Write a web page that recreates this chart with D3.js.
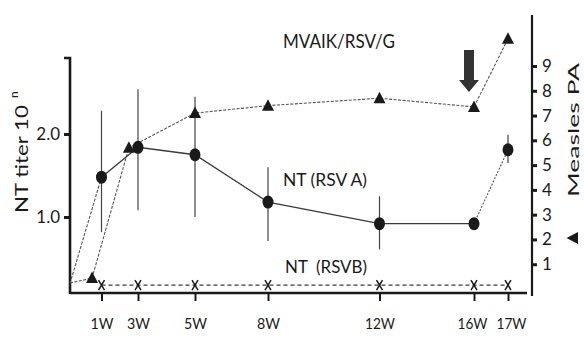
<!DOCTYPE html>
<html>
<head>
<meta charset="utf-8">
<script src="https://cdn.jsdelivr.net/npm/d3@7/dist/d3.min.js"></script>
<style>
  html, body { margin: 0; padding: 0; background: #fff; }
  svg { display: block; font-family: Lato, "Open Sans", sans-serif; }
</style>
</head>
<body>
<svg id="chart" width="584" height="337"></svg>
<script>
// Sampling weeks and their axis labels
const weeks = [1, 3, 5, 8, 12, 16, 17];
const weekLabels = ["1W", "3W", "5W", "8W", "12W", "16W", "17W"];

// Neutralising titre against RSV A (log10), with error range
const ntRsvA = [1.48, 1.84, 1.75, 1.18, 0.92, 0.92, 1.81];
const ntRsvALow = [0.82, 1.08, 1.00, 0.71, 0.61, null, 1.65];
const ntRsvAHigh = [2.28, 2.54, 2.45, 1.60, 1.25, null, 1.99];
const ntRsvAStart = 0.20;

// Neutralising titre against RSV B (log10)
const ntRsvB = [0.18, 0.18, 0.18, 0.18, 0.18, 0.18, 0.18];

// Measles PA titre (right axis), sampled at its own weeks
const measlesWeeks = [0.7, 2.5, 5, 8, 12, 16, 17];
const measlesPA = [0.44, 5.7, 7.1, 7.4, 7.7, 7.35, 10.1];
const measlesStart = 0.24;

// Axis ticks
const leftTicks = [1.0, 2.0];
const rightTicks = [1, 2, 3, 4, 5, 6, 7, 8, 9];

// Boost week (arrow)
const boostWeek = 16;

const svg = d3.select("#chart");
const ink = "#1a1a1a";
const lineInk = "#3a3a3a";

// Horizontal scale: piecewise over the week stops of the hand-spaced axis
const x = d3.scaleLinear()
  .domain([0, 1, 3, 5, 8, 12, 16, 17])
  .range([70, 101.5, 138, 195, 268, 379.5, 474, 508]);

const yL = d3.scaleLinear().domain([1, 2]).range([217, 134]);
const yR = d3.scaleLinear().domain([0, 9]).range([289, 66]);

const plotBottom = 293;
const leftX = 70, rightX = 532;

// ---- axes ----
const axes = svg.append("g").attr("stroke", ink).attr("fill", "none");
// left axis line with top cap
axes.append("path")
  .attr("d", `M${leftX - 6},58 H${leftX} V${plotBottom + 1}`)
  .attr("stroke-width", 2.6);
// bottom axis line
axes.append("line")
  .attr("x1", leftX).attr("x2", rightX - 5)
  .attr("y1", plotBottom).attr("y2", plotBottom)
  .attr("stroke-width", 2.6);
// right axis line
axes.append("line")
  .attr("x1", rightX).attr("x2", rightX)
  .attr("y1", 15).attr("y2", plotBottom + 3)
  .attr("stroke-width", 2.2);

// left ticks
const gL = svg.append("g").attr("transform", `translate(${leftX},0)`)
  .call(d3.axisLeft(yL).tickValues(leftTicks).tickFormat(d3.format(".1f"))
    .tickSizeInner(6).tickSizeOuter(0).tickPadding(4));
gL.select(".domain").remove();
gL.selectAll(".tick line").attr("stroke", ink).attr("stroke-width", 3);
gL.selectAll(".tick text").attr("fill", ink).attr("font-size", 17)
  .attr("font-family", "Lato, sans-serif");

// right ticks
const gR = svg.append("g").attr("transform", `translate(${rightX},0)`)
  .call(d3.axisRight(yR).tickValues(rightTicks).tickFormat(d3.format("d"))
    .tickSizeInner(5).tickSizeOuter(0).tickPadding(5));
gR.select(".domain").remove();
gR.selectAll(".tick line").attr("stroke", ink).attr("stroke-width", 3);
gR.selectAll(".tick text").attr("fill", ink).attr("font-size", 17)
  .attr("font-family", "Lato, sans-serif");

// bottom ticks; labels are set in a narrow width
const gB = svg.append("g").attr("transform", `translate(0,${plotBottom})`)
  .call(d3.axisBottom(x).tickValues(weeks)
    .tickFormat((d, i) => weekLabels[i])
    .tickSizeInner(8).tickSizeOuter(0).tickPadding(17));
gB.select(".domain").remove();
gB.selectAll(".tick line").attr("stroke", ink).attr("stroke-width", 2);
gB.selectAll(".tick text").attr("fill", ink).attr("font-size", 16)
  .attr("font-family", "Lato, sans-serif")
  .attr("textLength", (d, i) => weekLabels[i].length > 2 ? 30 : 23)
  .attr("lengthAdjust", "spacingAndGlyphs")
  .attr("dx", (d, i) => (d === 16 ? -2 : d === 17 ? 3 : 0));

// ---- RSV B: dashed baseline with x marks ----
const ptsB = weeks.map((w, i) => [x(w), yL(ntRsvB[i])]);
svg.append("path")
  .attr("d", d3.line()(ptsB))
  .attr("fill", "none").attr("stroke", lineInk)
  .attr("stroke-width", 1.2).attr("stroke-dasharray", "4,3");
svg.append("g").selectAll("path").data(ptsB).join("path")
  .attr("transform", d => `translate(${d[0]},${d[1]})`)
  .attr("d", "M-3,-5 L3,5 M3,-5 L-3,5")
  .attr("fill", "none").attr("stroke", ink).attr("stroke-width", 1.5);

// ---- measles PA line ----
const ptsM = [[x(0), yR(measlesStart)]].concat(
  measlesWeeks.map((w, i) => [x(w), yR(measlesPA[i])]));
svg.append("path")
  .attr("d", d3.line()(ptsM))
  .attr("fill", "none").attr("stroke", "#555")
  .attr("stroke-width", 1.1).attr("stroke-dasharray", "3,1.5");

// ---- RSV A line ----
const ptsA = weeks.map((w, i) => [x(w), yL(ntRsvA[i])]);
const line = d3.line();
// start segment and final segment are dotted, the rest solid
svg.append("path")
  .attr("d", line([[x(0), yL(ntRsvAStart)], ptsA[0]]))
  .attr("fill", "none").attr("stroke", "#555")
  .attr("stroke-width", 1.1).attr("stroke-dasharray", "3,1.5");
svg.append("path")
  .attr("d", line(ptsA.slice(0, 6)))
  .attr("fill", "none").attr("stroke", lineInk).attr("stroke-width", 1.3);
svg.append("path")
  .attr("d", line(ptsA.slice(5)))
  .attr("fill", "none").attr("stroke", "#555")
  .attr("stroke-width", 1.1).attr("stroke-dasharray", "2,1.5");

// error bars
svg.append("g").selectAll("line")
  .data(weeks.map((w, i) => ({ w, lo: ntRsvALow[i], hi: ntRsvAHigh[i] }))
    .filter(d => d.lo != null))
  .join("line")
  .attr("x1", d => x(d.w)).attr("x2", d => x(d.w))
  .attr("y1", d => yL(d.hi)).attr("y2", d => yL(d.lo))
  .attr("stroke", "#444").attr("stroke-width", 1.2);

// circles
svg.append("g").selectAll("ellipse").data(ptsA).join("ellipse")
  .attr("cx", d => d[0]).attr("cy", d => d[1])
  .attr("rx", 5.5).attr("ry", 6.5).attr("fill", ink);

// triangles
svg.append("g").selectAll("path")
  .data(measlesWeeks.map((w, i) => [x(w), yR(measlesPA[i])]))
  .join("path")
  .attr("transform", d => `translate(${d[0]},${d[1]})`)
  .attr("d", "M0,-6.5 L6,5 L-6,5 Z").attr("fill", ink);

// ---- boost arrow above the 16W point ----
const ax = x(boostWeek) - 5;
const aTip = yR(measlesPA[5]) - 15;
svg.append("path")
  .attr("d", `M${ax - 5},${aTip - 42} H${ax + 5} V${aTip - 12} H${ax + 10}
              L${ax},${aTip} L${ax - 10},${aTip - 12} H${ax - 5} Z`)
  .attr("fill", "#333");

// ---- labels ----
const lbl = svg.append("g").attr("fill", ink)
  .attr("font-family", "Lato, sans-serif");

lbl.append("text").attr("x", 283).attr("y", 48)
  .attr("font-size", 19).attr("textLength", 112)
  .attr("lengthAdjust", "spacingAndGlyphs").text("MVAIK/RSV/G");

lbl.append("text").attr("x", 283).attr("y", 186)
  .attr("font-size", 17).attr("textLength", 84)
  .attr("lengthAdjust", "spacingAndGlyphs").text("NT (RSV A)");

lbl.append("text").attr("x", 285).attr("y", 273)
  .attr("font-size", 17).attr("textLength", 82)
  .attr("lengthAdjust", "spacingAndGlyphs")
  .attr("xml:space", "preserve").text("NT  (RSVB)");

// left axis title with superscript
const lt = lbl.append("g").attr("transform", "translate(28,213) rotate(-90)");
lt.append("text").attr("x", 0).attr("y", 0)
  .attr("font-size", 18).attr("textLength", 108)
  .attr("lengthAdjust", "spacingAndGlyphs").text("NT titer 10");
lt.append("text").attr("x", 115).attr("y", -10)
  .attr("font-size", 12).text("n");

// right axis title with legend symbol
const rt = lbl.append("g").attr("transform", "translate(579,197) rotate(-90)");
rt.append("text").attr("x", 0).attr("y", 0)
  .attr("font-size", 16).attr("textLength", 134)
  .attr("lengthAdjust", "spacingAndGlyphs").text("Measles PA");
rt.append("path")
  .attr("transform", "translate(-41,-6)")
  .attr("d", "M0,-6.5 L6,5 L-6,5 Z").attr("fill", ink);
</script>
</body>
</html>
